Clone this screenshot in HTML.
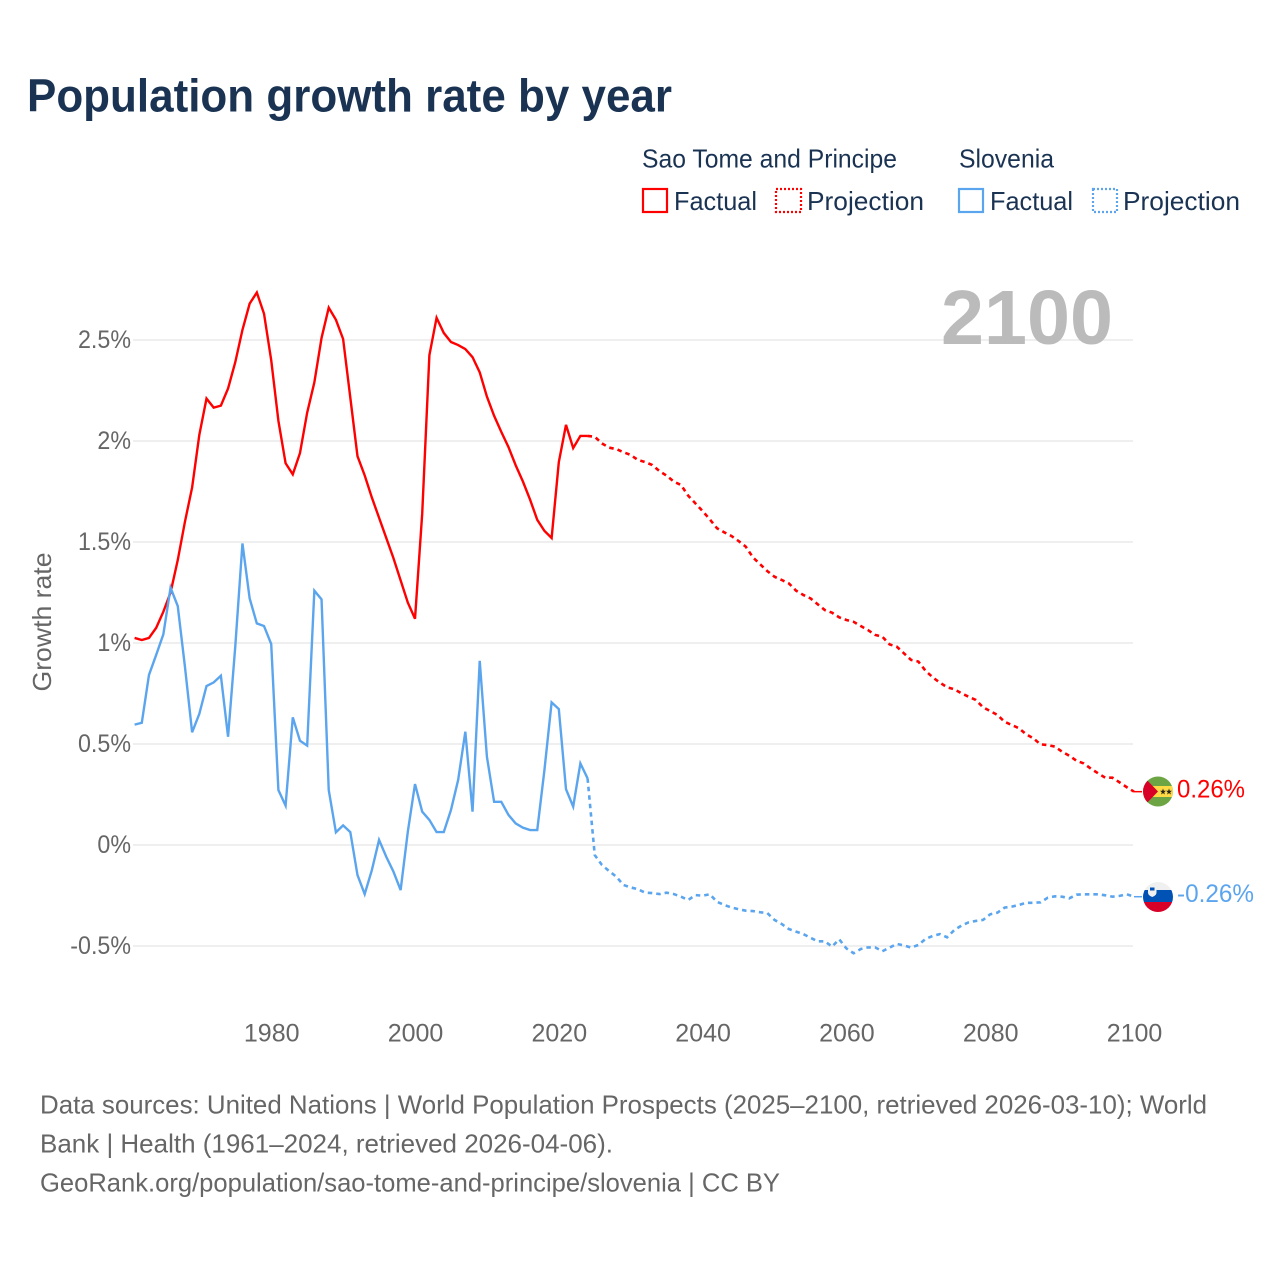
<!DOCTYPE html>
<html lang="en">
<head>
<meta charset="utf-8">
<title>Population growth rate by year</title>
<style>
html,body{margin:0;padding:0;background:#fff;width:1280px;height:1280px;overflow:hidden}
svg{display:block}
text{font-family:"Liberation Sans",sans-serif}
</style>
</head>
<body>
<svg id="chart" xmlns="http://www.w3.org/2000/svg" width="1280" height="1280" viewBox="0 0 1280 1280">
  <rect x="0" y="0" width="1280" height="1280" fill="#fff"/>
  <text x="27" y="111.500" font-size="46" font-weight="700" fill="#1a3353" textLength="645" lengthAdjust="spacingAndGlyphs">Population growth rate by year</text>

  <g font-size="26" fill="#1a3353">
    <text x="642" y="167.500" textLength="255" lengthAdjust="spacingAndGlyphs">Sao Tome and Principe</text>
    <text x="959" y="167.500" textLength="95" lengthAdjust="spacingAndGlyphs">Slovenia</text>
    <rect x="643" y="189" width="24" height="23" fill="none" stroke="#ff0000" stroke-width="2.200"/>
    <text x="674" y="210" textLength="83" lengthAdjust="spacingAndGlyphs">Factual</text>
    <rect x="776" y="189" width="25" height="23" fill="none" stroke="#ff0000" stroke-width="2.200" stroke-dasharray="2 2"/>
    <text x="807" y="210" textLength="117" lengthAdjust="spacingAndGlyphs">Projection</text>
    <rect x="959" y="189" width="24" height="23" fill="none" stroke="#5ba5ee" stroke-width="2.200"/>
    <text x="990" y="210" textLength="83" lengthAdjust="spacingAndGlyphs">Factual</text>
    <rect x="1093" y="189" width="24" height="23" fill="none" stroke="#5ba5ee" stroke-width="2.200" stroke-dasharray="2 2"/>
    <text x="1123" y="210" textLength="117" lengthAdjust="spacingAndGlyphs">Projection</text>
  </g>

  <g id="grid"></g>
  <g id="yticks"></g>
  <g id="xticks"></g>

  <text transform="translate(51,622) rotate(-90)" text-anchor="middle" font-size="26" fill="#666" textLength="139" lengthAdjust="spacingAndGlyphs">Growth rate</text>

  <text x="941" y="344" font-size="77" font-weight="700" fill="#bbbbbb" textLength="172" lengthAdjust="spacingAndGlyphs">2100</text>

  <g id="series"></g>

  <g>
    <clipPath id="clip-st"><circle cx="1158" cy="791.500" r="15"/></clipPath>
    <g clip-path="url(#clip-st)">
      <rect x="1143" y="776" width="30" height="31" fill="#6da544"/>
      <rect x="1143" y="786" width="30" height="11" fill="#ffda44"/>
      <polygon points="1143,776 1158,791.500 1143,807" fill="#d80027"/>
      <polygon points="1163,788.500 1163.800,790.800 1166,790.800 1164.200,792.200 1164.900,794.500 1163,793.100 1161.100,794.500 1161.800,792.200 1160,790.800 1162.200,790.800" fill="#222"/>
      <polygon points="1169,788.500 1169.800,790.800 1172,790.800 1170.200,792.200 1170.900,794.500 1169,793.100 1167.100,794.500 1167.800,792.200 1166,790.800 1168.200,790.800" fill="#222"/>
    </g>
  </g>
  <g>
    <clipPath id="clip-si"><circle cx="1158" cy="897" r="15"/></clipPath>
    <g clip-path="url(#clip-si)">
      <rect x="1143" y="882" width="30" height="8" fill="#f0f0f0"/>
      <rect x="1143" y="890" width="30" height="12" fill="#0052b4"/>
      <rect x="1143" y="902" width="30" height="10" fill="#d80027"/>
      <path d="M1148 887h8.500v5.500q0 3-4.250 4.500q-4.250-1.500-4.250-4.500z" fill="#f0f0f0"/>
      <rect x="1150" y="887.500" width="4.500" height="3" fill="#0052b4"/>
    </g>
  </g>
  <text x="1177" y="797.500" font-size="25" fill="#ff0000" textLength="68" lengthAdjust="spacingAndGlyphs">0.26%</text>
  <text x="1177" y="902" font-size="25" fill="#5ba5ee" textLength="77" lengthAdjust="spacingAndGlyphs">-0.26%</text>

  <g font-size="26" fill="#666">
    <text x="40" y="1113.500" textLength="1167" lengthAdjust="spacingAndGlyphs">Data sources: United Nations | World Population Prospects (2025–2100, retrieved 2026-03-10); World</text>
    <text x="40" y="1152.500" textLength="573" lengthAdjust="spacingAndGlyphs">Bank | Health (1961–2024, retrieved 2026-04-06).</text>
    <text x="40" y="1191.500" textLength="740" lengthAdjust="spacingAndGlyphs">GeoRank.org/population/sao-tome-and-principe/slovenia | CC BY</text>
  </g>
</svg>
<script>
const firstYear = 1961;
const xTickYears = [1980, 2000, 2020, 2040, 2060, 2080, 2100];
const yTickValues = [2.5, 2, 1.5, 1, 0.5, 0, -0.5];
const yTickLabels = ['2.5%', '2%', '1.5%', '1%', '0.5%', '0%', '-0.5%'];

// 1961-2024
const saoTomeFactual = [1.025,1.015,1.025,1.075,1.155,1.25,1.41,1.6,1.77,2.03,2.21,2.165,2.175,2.26,2.39,2.55,2.68,2.735,2.63,2.4,2.1,1.89,1.835,1.94,2.14,2.29,2.51,2.66,2.6,2.505,2.215,1.925,1.83,1.72,1.62,1.52,1.42,1.31,1.2,1.12,1.64,2.425,2.61,2.535,2.49,2.475,2.455,2.415,2.34,2.22,2.125,2.045,1.97,1.88,1.8,1.71,1.61,1.555,1.52,1.895,2.08,1.965,2.025,2.025];
// 2025-2100
const saoTomeProjection = [2.021,1.988,1.967,1.96,1.944,1.931,1.906,1.896,1.881,1.851,1.828,1.799,1.782,1.729,1.691,1.653,1.612,1.568,1.548,1.53,1.505,1.477,1.424,1.39,1.356,1.328,1.312,1.295,1.259,1.238,1.221,1.192,1.163,1.15,1.127,1.114,1.105,1.084,1.064,1.04,1.031,0.993,0.982,0.949,0.916,0.908,0.863,0.83,0.804,0.781,0.771,0.751,0.734,0.718,0.682,0.663,0.644,0.61,0.594,0.578,0.548,0.528,0.498,0.495,0.487,0.462,0.442,0.417,0.404,0.378,0.355,0.333,0.333,0.31,0.286,0.264];
// 1961-2024
const sloveniaFactual = [0.596,0.605,0.842,0.941,1.043,1.274,1.183,0.883,0.558,0.649,0.787,0.805,0.838,0.536,0.982,1.493,1.221,1.097,1.084,0.995,0.272,0.195,0.632,0.516,0.492,1.259,1.216,0.272,0.063,0.097,0.064,-0.149,-0.243,-0.124,0.025,-0.058,-0.132,-0.223,0.066,0.302,0.165,0.124,0.064,0.064,0.173,0.322,0.561,0.165,0.912,0.437,0.214,0.214,0.149,0.107,0.086,0.074,0.074,0.371,0.706,0.673,0.276,0.19,0.404,0.33];
// 2025-2100
const sloveniaProjection = [-0.05,-0.099,-0.129,-0.157,-0.198,-0.21,-0.219,-0.236,-0.238,-0.243,-0.236,-0.243,-0.256,-0.272,-0.248,-0.251,-0.244,-0.281,-0.297,-0.309,-0.318,-0.325,-0.327,-0.333,-0.337,-0.371,-0.391,-0.416,-0.429,-0.441,-0.459,-0.477,-0.477,-0.503,-0.467,-0.512,-0.536,-0.515,-0.507,-0.507,-0.526,-0.508,-0.49,-0.497,-0.508,-0.495,-0.465,-0.45,-0.441,-0.457,-0.421,-0.399,-0.383,-0.376,-0.371,-0.343,-0.335,-0.31,-0.305,-0.297,-0.286,-0.286,-0.284,-0.261,-0.254,-0.256,-0.264,-0.246,-0.244,-0.244,-0.244,-0.249,-0.256,-0.252,-0.244,-0.256];

const NS = 'http://www.w3.org/2000/svg';
function xScale(year) { return 134.6 + (year - firstYear) * 7.19; }
function yScale(value) { return 845 - value * 202; }
function make(tag, attrs, parent) {
  const el = document.createElementNS(NS, tag);
  for (const k in attrs) el.setAttribute(k, attrs[k]);
  parent.appendChild(el);
  return el;
}
const grid = document.getElementById('grid');
const yticks = document.getElementById('yticks');
const xticks = document.getElementById('xticks');
const series = document.getElementById('series');

yTickValues.forEach(function (v, i) {
  const line = make('line', {x1: 133, x2: 1133, y1: yScale(v), y2: yScale(v), stroke: '#efefef', 'stroke-width': 2}, grid);
  
  
  const t = make('text', {x: 131, y: yScale(v) + 8, 'text-anchor': 'end', 'font-size': 25, fill: '#666'}, yticks);
  t.textContent = yTickLabels[i];
  
  
  t.setAttribute('lengthAdjust', 'spacingAndGlyphs');
  t.setAttribute('textLength', (t.getComputedTextLength() * 0.93).toFixed(1));
});
xTickYears.forEach(function (year) {
  const t = make('text', {x: xScale(year) + 0.5, y: 1041.5, 'text-anchor': 'middle', 'font-size': 25, fill: '#666'}, xticks);
  t.textContent = String(year);
  
  
});

function pathFrom(points) {
  return points.map(function (p, i) {
    return (i ? 'L' : 'M') + xScale(p[0]).toFixed(2) + ' ' + yScale(p[1]).toFixed(2);
  }).join(' ');
}
function drawSeries(factual, projection, color) {
  const fPts = factual.map(function (v, i) { return [firstYear + i, v]; });
  const lastYear = firstYear + factual.length - 1;
  const pPts = [[lastYear, factual[factual.length - 1]]].concat(
    projection.map(function (v, i) { return [lastYear + 1 + i, v]; }));
  const f = make('path', {d: pathFrom(fPts), fill: 'none', stroke: color, 'stroke-width': 2.4, 'stroke-linejoin': 'miter'}, series);
  
  
  const p = make('path', {d: pathFrom(pPts), fill: 'none', stroke: color, 'stroke-width': 2.6, 'stroke-dasharray': '4.5 4'}, series);
  
  
  const endV = projection[projection.length - 1];
  const leader = make('line', {x1: xScale(2100), x2: xScale(2100) + 8, y1: yScale(endV), y2: yScale(endV), stroke: color, 'stroke-width': 1.5}, series);
  
  
}
drawSeries(saoTomeFactual, saoTomeProjection, '#ff0000');
drawSeries(sloveniaFactual, sloveniaProjection, '#5ba5ee');
</script>
</body>
</html>
